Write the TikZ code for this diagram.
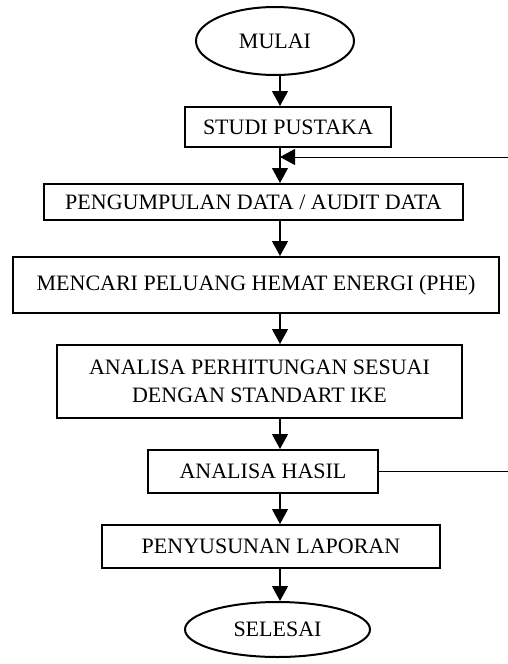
\documentclass[tikz,border=0pt]{standalone}
\usepackage{fontspec}
\setmainfont{Liberation Serif}
\usetikzlibrary{arrows.meta,shapes.geometric}

\begin{document}
\begin{tikzpicture}[x=1pt,y=-1pt,
    font=\fontsize{22}{28}\selectfont,
    stepbox/.style={draw,line width=2pt,rectangle,inner sep=0pt,align=center},
    terminal/.style={draw,line width=2pt,ellipse,inner sep=0pt},
    arr/.style={line width=1.2pt,-{Triangle[width=16pt,length=15pt]}}]
    \useasboundingbox (0,0) rectangle (508,664);
    \coordinate (axis) at (280,0);

    % start and end
    \node[terminal,minimum width=158pt,minimum height=68pt] (mulai) at (275,41) {MULAI};
    \node[terminal,minimum width=185pt,minimum height=55pt] (selesai) at (277.5,629.5) {SELESAI};

    % process steps
    \node[stepbox,minimum width=206pt,minimum height=40pt] (studi) at (288,127) {STUDI PUSTAKA};
    \node[stepbox,minimum width=419pt,minimum height=36pt] (kumpul) at (253.5,202) {PENGUMPULAN DATA / AUDIT DATA};
    \node[stepbox,minimum width=486pt,minimum height=56pt] (cari) at (256,285) {MENCARI PELUANG HEMAT ENERGI (PHE)};
    \node[stepbox,minimum width=405pt,minimum height=73pt] (analisa) at (259.5,381.5) {ANALISA PERHITUNGAN SESUAI\\DENGAN STANDART IKE};
    \node[stepbox,minimum width=230pt,minimum height=43pt] (hasil) at (263,471.5) {ANALISA HASIL};
    \node[stepbox,minimum width=338pt,minimum height=43pt] (susun) at (271,546.5) {PENYUSUNAN LAPORAN};

    % main flow
    \draw[arr] (mulai.south -| axis) -- (studi.north -| axis);
    \draw[arr] (studi.south -| axis) -- (kumpul.north -| axis);
    \draw[arr] (kumpul.south -| axis) -- (cari.north -| axis);
    \draw[arr] (cari.south -| axis) -- (analisa.north -| axis);
    \draw[arr] (analisa.south -| axis) -- (hasil.north -| axis);
    \draw[arr] (hasil.south -| axis) -- (susun.north -| axis);
    \draw[arr] (susun.south -| axis) -- (selesai.north -| axis);

    % feedback loop
    \coordinate (back) at (508,157);
    \draw[arr,line width=1pt] (back) -- (back -| axis);
    \draw[line width=1pt] (hasil.east) -- (hasil.east -| back);
\end{tikzpicture}
\end{document}
